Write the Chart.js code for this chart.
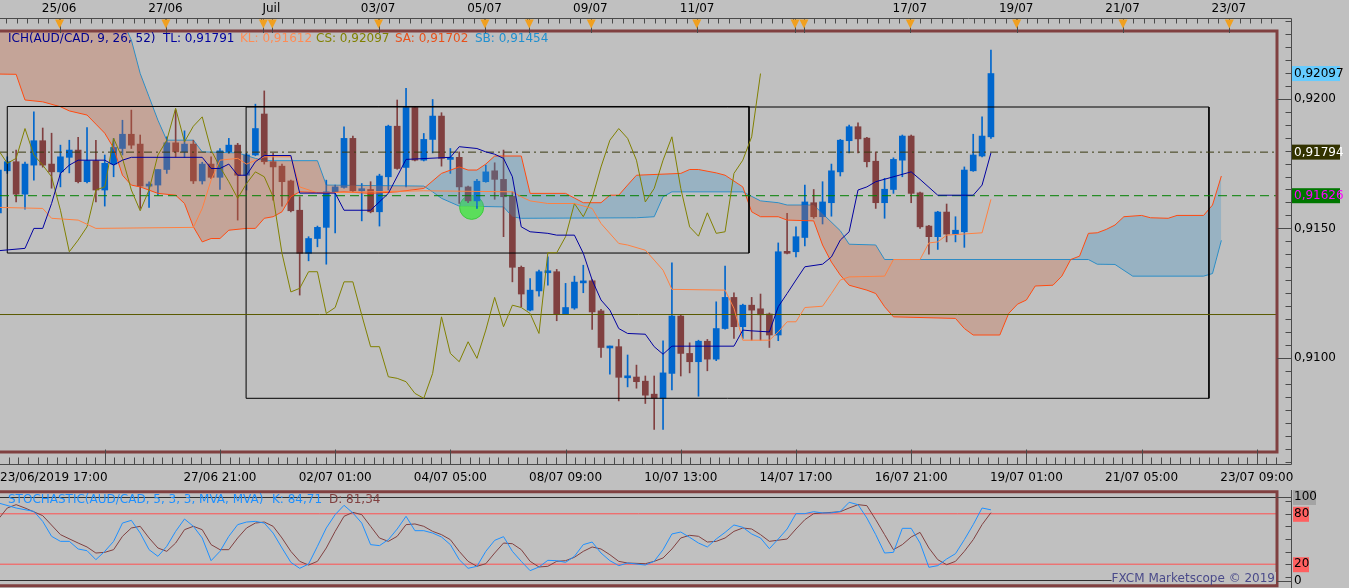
<!DOCTYPE html>
<html>
<head>
<meta charset="utf-8">
<script src="https://cdn.jsdelivr.net/npm/chart.js@4.4.1/dist/chart.umd.min.js"></script>
<style>
html, body { margin: 0; padding: 0; background: #c0c0c0; overflow: hidden; }
#wrap { position: relative; width: 1349px; height: 588px; }
canvas { position: absolute; left: 0; }
#main { top: 0; }
#stoch { top: 490px; }
</style>
</head>
<body>
<div id="wrap">
<canvas id="main" width="1349" height="490"></canvas>
<canvas id="stoch" width="1349" height="98"></canvas>
</div>
<script>
// AUD/CAD 4h candles, index 0 = 23/06/2019 17:00
var opens = [0.91560,0.91722,0.91757,0.91632,0.91744,0.91838,0.91748,0.91718,0.91774,0.91802,
  0.91680,0.91761,0.91648,0.91748,0.91808,0.91863,0.91825,0.91663,0.91667,0.91727,
  0.91830,0.91795,0.91825,0.91683,0.91748,0.91697,0.91795,0.91821,0.91705,0.91783,
  0.91941,0.91757,0.91740,0.91683,0.91570,0.91404,0.91461,0.91504,0.91641,0.91658,
  0.91847,0.91645,0.91650,0.91564,0.91699,0.91894,0.91735,0.91966,0.91763,0.91843,
  0.91933,0.91766,0.91774,0.91660,0.91606,0.91680,0.91722,0.91689,0.91624,0.91350,
  0.91185,0.91259,0.91329,0.91333,0.91170,0.91193,0.91290,0.91298,0.91182,0.91039,
  0.91044,0.90924,0.90927,0.90911,0.90861,0.90845,0.90941,0.91162,0.91018,0.90986,
  0.91065,0.90996,0.91114,0.91234,0.91121,0.91204,0.91190,0.91170,0.91089,0.91407,
  0.91410,0.91465,0.91599,0.91545,0.91599,0.91718,0.91838,0.91892,0.91848,0.91759,
  0.91599,0.91650,0.91763,0.91856,0.91637,0.91509,0.91468,0.91563,0.91478,0.91487,
  0.91722,0.91779,0.91853];
var highs = [0.91732,0.91776,0.91802,0.91756,0.91949,0.91887,0.91867,0.91821,0.91840,0.91851,
  0.91889,0.91840,0.91783,0.91847,0.91917,0.91956,0.91860,0.91680,0.91727,0.91853,
  0.91956,0.91876,0.91840,0.91755,0.91776,0.91808,0.91847,0.91828,0.91789,0.91979,
  0.92030,0.91789,0.91748,0.91686,0.91622,0.91468,0.91509,0.91686,0.91667,0.91892,
  0.91856,0.91673,0.91680,0.91709,0.91898,0.91995,0.92040,0.91970,0.91866,0.91997,
  0.91946,0.91808,0.91795,0.91663,0.91689,0.91744,0.91753,0.91802,0.91641,0.91355,
  0.91307,0.91339,0.91390,0.91342,0.91288,0.91316,0.91358,0.91303,0.91188,0.91046,
  0.91072,0.91012,0.90973,0.90931,0.90931,0.91067,0.91367,0.91166,0.91059,0.91069,
  0.91072,0.91217,0.91355,0.91252,0.91208,0.91234,0.91247,0.91174,0.91444,0.91558,
  0.91506,0.91667,0.91650,0.91680,0.91748,0.91843,0.91898,0.91907,0.91851,0.91795,
  0.91693,0.91772,0.91860,0.91860,0.91640,0.91512,0.91566,0.91594,0.91545,0.91737,
  0.91863,0.91930,0.92187];
var lows = [0.91551,0.91712,0.91602,0.91574,0.91686,0.91736,0.91655,0.91660,0.91714,0.91675,
  0.91675,0.91602,0.91586,0.91699,0.91783,0.91808,0.91577,0.91581,0.91628,0.91712,
  0.91776,0.91774,0.91673,0.91671,0.91692,0.91650,0.91789,0.91532,0.91648,0.91780,
  0.91748,0.91609,0.91586,0.91564,0.91243,0.91375,0.91429,0.91362,0.91483,0.91655,
  0.91642,0.91529,0.91560,0.91509,0.91648,0.91728,0.91660,0.91760,0.91760,0.91791,
  0.91740,0.91712,0.91596,0.91599,0.91577,0.91678,0.91612,0.91468,0.91294,0.91198,
  0.91182,0.91239,0.91281,0.91144,0.91168,0.91188,0.91252,0.91111,0.91003,0.90938,
  0.90835,0.90889,0.90884,0.90825,0.90725,0.90725,0.90877,0.90931,0.90943,0.90853,
  0.90951,0.90990,0.91112,0.91076,0.91076,0.91069,0.91069,0.91041,0.91067,0.91402,
  0.91390,0.91432,0.91539,0.91517,0.91547,0.91702,0.91791,0.91791,0.91737,0.91577,
  0.91539,0.91635,0.91699,0.91599,0.91500,0.91401,0.91419,0.91448,0.91448,0.91427,
  0.91720,0.91776,0.91847];
var closes = [0.91725,0.91757,0.91632,0.91748,0.91838,0.91744,0.91718,0.91776,0.91802,0.91680,
  0.91761,0.91648,0.91751,0.91812,0.91863,0.91821,0.91663,0.91671,0.91727,0.91830,
  0.91795,0.91825,0.91683,0.91748,0.91697,0.91799,0.91821,0.91705,0.91783,0.91885,
  0.91757,0.91737,0.91680,0.91568,0.91404,0.91461,0.91504,0.91641,0.91660,0.91847,
  0.91645,0.91653,0.91564,0.91702,0.91894,0.91731,0.91966,0.91763,0.91843,0.91933,
  0.91770,0.91774,0.91660,0.91606,0.91682,0.91718,0.91689,0.91622,0.91350,0.91247,
  0.91262,0.91333,0.91335,0.91170,0.91195,0.91293,0.91297,0.91178,0.91041,0.91044,
  0.90926,0.90928,0.90909,0.90857,0.90845,0.90943,0.91162,0.91018,0.90986,0.91065,
  0.90996,0.91114,0.91234,0.91121,0.91204,0.91185,0.91167,0.91089,0.91410,0.91404,
  0.91468,0.91602,0.91545,0.91602,0.91722,0.91840,0.91892,0.91845,0.91757,0.91599,
  0.91651,0.91766,0.91856,0.91635,0.91506,0.91468,0.91563,0.91478,0.91493,0.91725,
  0.91783,0.91856,0.92097];

// ichimoku lines, [candle index, price] at the vertices
var tenkan = [[0,0.91414],[3,0.91423],[4,0.91500],[5,0.91500],[6,0.91596],[7,0.91712],[8,0.91744],[9,0.91763],
  [12,0.91763],[13,0.91744],[14,0.91763],[15,0.91774],[23,0.91774],[24,0.91731],[25,0.91731],[26,0.91748],
  [27,0.91705],[28,0.91705],[29,0.91757],[30,0.91781],[33,0.91781],[34,0.91636],[38,0.91636],[39,0.91570],
  [42,0.91570],[44,0.91635],[46,0.91766],[51,0.91774],[52,0.91815],[54,0.91808],[55,0.91795],[56,0.91786],
  [57,0.91770],[58,0.91699],[59,0.91506],[60,0.91487],[62,0.91481],[63,0.91474],[65,0.91474],[66,0.91404],
  [67,0.91301],[68,0.91224],[69,0.91185],[70,0.91114],[71,0.91095],[73,0.91092],[74,0.91044],[75,0.91015],
  [76,0.91046],[83,0.91046],[84,0.91108],[85,0.91105],[87,0.91101],[88,0.91198],[89,0.91249],[90,0.91301],
  [91,0.91352],[93,0.91362],[94,0.91390],[95,0.91455],[96,0.91487],[97,0.91648],[98,0.91660],[99,0.91680],
  [103,0.91718],[104,0.91689],[106,0.91628],[110,0.91628],[111,0.91667],[112,0.91791]];
var kijun = [[0,0.91581],[5,0.91577],[6,0.91539],[9,0.91532],[11,0.91500],[22,0.91504],[23,0.91577],[24,0.91686],
  [25,0.91763],[27,0.91770],[28,0.91748],[30,0.91776],[33,0.91776],[34,0.91660],[36,0.91637],[48,0.91645],
  [58,0.91641],[59,0.91622],[60,0.91606],[62,0.91596],[65,0.91596],[67,0.91577],[68,0.91519],[70,0.91442],
  [71,0.91436],[73,0.91416],[74,0.91378],[75,0.91339],[76,0.91265],[82,0.91262],[83,0.91192],[84,0.91069],
  [87,0.91069],[88,0.91101],[89,0.91140],[90,0.91140],[91,0.91195],[93,0.91200],[94,0.91249],[95,0.91301],
  [96,0.91313],[100,0.91316],[101,0.91380],[104,0.91380],[105,0.91444],[106,0.91448],[107,0.91474],
  [111,0.91483],[112,0.91612]];
var chikou = [0.91802,0.91751,0.91770,0.91885,0.91783,0.91744,0.91699,0.91570,0.91410,0.91455,
  0.91506,0.91648,0.91660,0.91847,0.91770,0.91648,0.91568,0.91648,0.91783,0.91840,
  0.91963,0.91834,0.91894,0.91930,0.91802,0.91737,0.91680,0.91616,0.91673,0.91718,
  0.91699,0.91622,0.91404,0.91255,0.91269,0.91333,0.91333,0.91172,0.91195,0.91294,
  0.91294,0.91166,0.91044,0.91044,0.90928,0.90922,0.90909,0.90864,0.90845,0.90941,
  0.91159,0.91018,0.90986,0.91063,0.90999,0.91108,0.91234,0.91121,0.91204,0.91195,
  0.91172,0.91095,0.91406,0.91406,0.91468,0.91596,0.91545,0.91616,0.91737,0.91840,
  0.91885,0.91847,0.91763,0.91602,0.91654,0.91763,0.91853,0.91654,0.91506,0.91470,
  0.91560,0.91481,0.91487,0.91712,0.91763,0.91853,0.92097];
var senkouA = [[0,0.92095],[2,0.92094],[3,0.91995],[5,0.91988],[7,0.91969],[8,0.91953],[10,0.91937],[11,0.91902],
  [12,0.91867],[13,0.91810],[14,0.91705],[15,0.91667],[16,0.91660],[18,0.91635],[20,0.91628],[21,0.91596],
  [22,0.91506],[23,0.91448],[24,0.91461],[25,0.91461],[26,0.91493],[28,0.91500],[29,0.91500],[30,0.91539],
  [31,0.91545],[32,0.91564],[33,0.91622],[34,0.91641],[37,0.91637],[39,0.91641],[42,0.91635],[45,0.91641],
  [48,0.91654],[50,0.91712],[52,0.91737],[53,0.91725],[54,0.91725],[55,0.91748],[56,0.91779],[59,0.91779],
  [60,0.91635],[64,0.91635],[65,0.91617],[66,0.91599],[68,0.91599],[69,0.91628],[70,0.91628],[71,0.91667],
  [72,0.91705],[77,0.91712],[78,0.91727],[79,0.91727],[81,0.91714],[82,0.91705],[84,0.91660],[85,0.91564],
  [86,0.91545],[88,0.91545],[89,0.91532],[92,0.91529],[93,0.91436],[94,0.91370],[95,0.91320],[96,0.91281],
  [98,0.91262],[99,0.91249],[100,0.91198],[101,0.91159],[108,0.91153],[109,0.91114],[110,0.91089],
  [113,0.91089],[114,0.91172],[115,0.91208],[116,0.91224],[117,0.91278],[119,0.91281],[120,0.91316],
  [121,0.91380],[122,0.91393],[123,0.91481],[124,0.91483],[125,0.91496],[126,0.91513],[127,0.91545],
  [129,0.91550],[130,0.91541],[132,0.91539],[133,0.91550],[136,0.91550],[137,0.91590],[138,0.91702]];
var senkouB = [[0,0.92400],[13,0.92400],[14,0.92300],[15,0.92226],[16,0.92097],[17,0.92007],[18,0.91917],
  [19,0.91840],[22,0.91840],[23,0.91795],[27,0.91791],[29,0.91770],[30,0.91761],[36,0.91761],[37,0.91667],
  [48,0.91663],[49,0.91641],[50,0.91616],[52,0.91586],[57,0.91583],[58,0.91545],[59,0.91539],[72,0.91541],
  [74,0.91545],[75,0.91622],[76,0.91641],[84,0.91641],[86,0.91606],[88,0.91599],[89,0.91590],[92,0.91590],
  [95,0.91491],[96,0.91439],[99,0.91436],[100,0.91380],[123,0.91380],[124,0.91362],[126,0.91361],
  [128,0.91316],[136,0.91316],[137,0.91326],[138,0.91454]];

// drawings on the price panel
var levelPrices = [0.91794, 0.91626, 0.91168];
var boxes = [[1.0, 84.7, 0.91405, 0.91970], [27.95, 136.6, 0.90845, 0.91968]]; // [from, to, low, high]
var marker = [53.4, 0.91581];
var tagPrices = [0.92097, 0.91794, 0.91626];
var tagTexts = ['0,92097', '0,91794', '0,91626'];

// stochastic 5,3,3 (null = not read, line passes straight)
var stochK = [92.9,null,86.9,null,82.9,71.0,53.2,47.2,47.2,38.1,36.1,25.4,35.3,47.2,69.0,72.2,57.1,37.3,29.4,41.3,
  59.1,73.8,65.1,51.2,24.2,35.3,53.2,67.1,70.2,71.0,69.0,57.1,39.3,22.2,15.1,20.2,41.3,63.1,79.0,90.1,
  81.0,69.0,43.3,42.1,49.2,61.9,77.0,59.9,59.9,57.1,52.4,43.3,25.4,15.1,17.5,35.3,48.4,52.8,35.3,23.4,
  12.3,16.7,24.6,24.2,22.2,29.4,43.3,46.4,33.3,24.2,18.3,21.4,null,19.0,23.4,37.3,56.0,58.3,52.0,45.2,
  40.5,50.0,57.9,66.7,63.9,56.0,51.2,38.5,50.0,61.9,80.2,80.2,82.5,81.0,81.0,82.9,93.7,90.9,75.0,55.2,
  33.3,34.1,62.7,62.7,45.2,16.3,18.3,26.2,32.5,49.2,67.1,86.9,84.71];
var stochD = [73.8,86.9,90.9,86.9,null,77.8,null,55.2,null,45.2,40.5,33.3,34.1,37.3,53.2,63.1,65.1,51.2,39.3,35.3,
  45.2,61.1,65.1,61.1,43.3,37.3,37.3,51.2,63.1,69.0,70.2,65.1,51.2,35.3,23.4,19.0,23.4,39.3,59.1,77.0,
  81.7,79.0,65.1,51.2,47.2,53.2,67.1,67.9,65.1,59.1,55.2,49.2,35.3,23.4,17.5,20.6,33.3,45.2,44.4,37.3,
  23.4,16.7,17.5,23.4,24.2,28.2,35.3,40.5,38.1,31.3,23.4,21.4,null,20.6,23.4,27.4,38.1,51.2,54.4,53.2,
  46.4,47.2,51.2,59.1,63.1,61.9,55.2,47.2,null,50.0,61.9,73.0,80.2,81.0,81.7,82.5,86.9,90.9,89.7,73.0,
  55.2,37.3,43.3,52.4,57.9,39.3,25.4,19.4,23.4,35.3,49.2,67.1,81.34];
var stochLevels = [100, 80, 20, 0];
var stochTicks = [0, 20, 80, 100];

// axes
var priceTicks = [0.9100, 0.9150, 0.9200];
var timeTicks = [0, 25, 38, 51, 64, 77, 90, 103, 116, 129, 142];
var timeLabels = ['23/06/2019 17:00', '27/06 21:00', '02/07 01:00', '04/07 05:00', '08/07 09:00', '10/07 13:00',
  '14/07 17:00', '16/07 21:00', '19/07 01:00', '21/07 05:00', '23/07 09:00'];
var dayTicks = [6.85, 18.85, 30.8, 42.85, 54.85, 66.8, 78.85, 102.85, 114.85, 126.85, 138.85];
var dayLabels = ['25/06', '27/06', 'Juil', '03/07', '05/07', '09/07', '11/07', '17/07', '19/07', '21/07', '23/07'];
var eventMarks = [6.9, 18.9, 29.9, 30.9, 42.9, 54.9, 59.9, 66.9, 78.8, 89.9, 90.9, 102.9, 114.9, 126.9, 138.9];

var X_MIN = 0.18, X_MAX = 144.28;
var P_MIN = 0.90638, P_MAX = 0.92261;

var UP = '#0066cc', DOWN = '#804040', BORDER = '#804040', AXIS = '#4a4a4a';
var FONT = '12px "DejaVu Sans"';
Chart.defaults.font.family = '"DejaVu Sans"';
Chart.defaults.font.size = 12;
Chart.defaults.color = '#000';

function pts(list) { return list.map(function (p) { return {x: p[0], y: p[1]}; }); }
function idx(arr) { return arr.map(function (v, i) { return {x: i, y: v}; }); }
function flat(v) { return [{x: X_MIN, y: v}, {x: X_MAX, y: v}]; }
function rect(b) { return [{x: b[0], y: b[3]}, {x: b[1], y: b[3]}, {x: b[1], y: b[2]}, {x: b[0], y: b[2]}, {x: b[0], y: b[3]}]; }
function line(data, color, order, extra) {
  var ds = {type: 'line', data: data, borderColor: color, borderWidth: 1, pointRadius: 0, tension: 0, fill: false, order: order};
  for (var k in extra) ds[k] = extra[k];
  return ds;
}
// right axis: width fixed, no extra vertical padding from the tick labels
function fitRight(s) { s.width = 72; s.paddingTop = 0; s.paddingBottom = 0; }

var candleIdx = opens.map(function (v, i) { return i; });
var candleColors = candleIdx.map(function (i) { return closes[i] >= opens[i] ? UP : DOWN; });

var mainDecor = {
  id: 'mainDecor',
  afterDraw: function (chart) {
    var ctx = chart.ctx, a = chart.chartArea, x = chart.scales.x, y = chart.scales.y;
    var ax = a.right + 14.5, topLine = 18.5, base = 464.5;
    ctx.save();
    ctx.lineWidth = 3; ctx.strokeStyle = BORDER;
    ctx.beginPath();
    ctx.moveTo(0, a.top); ctx.lineTo(a.right, a.top); ctx.lineTo(a.right, a.bottom); ctx.lineTo(0, a.bottom);
    ctx.stroke();

    ctx.lineWidth = 1; ctx.strokeStyle = AXIS;
    ctx.beginPath();
    ctx.moveTo(0, topLine); ctx.lineTo(ax, topLine); ctx.lineTo(ax, base); ctx.lineTo(0, base);
    var i, k, px, py;
    for (i = -6; ; i++) {           // top day axis small ticks
      k = dayTicks[0] + i * 1.2;
      if (k > X_MAX) break;
      if (k < X_MIN) continue;
      px = Math.round(x.getPixelForValue(k)) + 0.5;
      ctx.moveTo(px, topLine); ctx.lineTo(px, topLine + 5);
    }
    for (i = -12; ; i++) {          // bottom time axis ticks
      k = 12 + i * 13 / 12;
      if (k > X_MAX) break;
      if (k < X_MIN) continue;
      px = Math.round(x.getPixelForValue(k)) + 0.5;
      ctx.moveTo(px, base); ctx.lineTo(px, i % 12 === 0 ? base - 15 : base - 7);
    }
    for (i = 0; i < 40; i++) {      // price axis ticks
      var v = 0.9060 + i * 0.0005;
      py = y.getPixelForValue(v);
      if (py < topLine || py > base) continue;
      py = Math.round(py) + 0.5;
      var major = Math.abs(v * 200 - Math.round(v * 200)) < 1e-6;
      ctx.moveTo(major ? a.right : ax - 6, py); ctx.lineTo(ax, py);
    }
    eventMarks.forEach(function (m) {
      px = Math.round(x.getPixelForValue(m)) + 0.5;
      ctx.moveTo(px, topLine); ctx.lineTo(px, a.top + 2);
    });
    ctx.stroke();

    ctx.fillStyle = '#f0a020';
    eventMarks.forEach(function (m) {
      px = x.getPixelForValue(m);
      ctx.beginPath();
      ctx.moveTo(px - 4.5, topLine + 1); ctx.lineTo(px + 4.5, topLine + 1); ctx.lineTo(px, topLine + 10);
      ctx.closePath(); ctx.fill();
    });

    ctx.font = FONT; ctx.textBaseline = 'middle'; ctx.fillStyle = '#000';
    ctx.textAlign = 'center';
    dayTicks.forEach(function (d, j) { ctx.fillText(dayLabels[j], x.getPixelForValue(d), 9); });
    timeTicks.forEach(function (t, j) {
      if (j === 0) { ctx.textAlign = 'left'; ctx.fillText(timeLabels[j], 0, 478); ctx.textAlign = 'center'; }
      else ctx.fillText(timeLabels[j], x.getPixelForValue(t), 478);
    });

    var tagBg = ['#66ccff', '#333300', '#007700'], tagFg = ['#000', '#fff', '#ff00ff'];
    ctx.textAlign = 'left';
    tagPrices.forEach(function (p, j) {
      py = y.getPixelForValue(p);
      ctx.fillStyle = tagBg[j]; ctx.fillRect(a.right + 15, py - 7.5, 48, 15);
      ctx.fillStyle = tagFg[j]; ctx.fillText(tagTexts[j], a.right + 17, py + 0.5);
    });

    var title = [['ICH(AUD/CAD, 9, 26, 52)', '#000090', 8], ['TL: 0,91791', '#0000a0', 163],
      ['KL: 0,91612', '#ff8c55', 240], ['CS: 0,92097', '#808000', 316],
      ['SA: 0,91702', '#e8501a', 395], ['SB: 0,91454', '#1e8fd0', 475]];
    title.forEach(function (t) { ctx.fillStyle = t[1]; ctx.fillText(t[0], t[2], 39); });
    ctx.restore();
  }
};

new Chart(document.getElementById('main'), {
  type: 'bar',
  data: {
    datasets: [
      line(pts(senkouA), '#ff4a10', 30, {fill: {target: '+1', above: 'rgba(69,150,200,0.32)', below: 'rgba(205,105,68,0.32)'}}),
      line(pts(senkouB), '#1e90d0', 40),
      {type: 'bar', data: candleIdx.map(function (i) { return {x: i, y: [lows[i], highs[i]]}; }),
        backgroundColor: candleColors, barThickness: 1, grouped: false, order: 35},
      {type: 'bar', data: candleIdx.map(function (i) { return {x: i, y: [Math.min(opens[i], closes[i]), Math.max(opens[i], closes[i])]}; }),
        backgroundColor: candleColors, barThickness: 6, minBarLength: 2, grouped: false, order: 34},
      line(rect(boxes[0]), '#000', 20),
      line(rect(boxes[1]), '#000', 20),
      line(flat(levelPrices[0]), '#3a3a10', 18, {borderDash: [8, 4, 2, 4]}),
      line(flat(levelPrices[1]), '#008000', 18, {borderDash: [9, 5]}),
      line(flat(levelPrices[2]), '#5a5a00', 18),
      line(idx(chikou), '#808000', 15),
      line(pts(kijun), '#ff8040', 14),
      line(pts(tenkan), '#0000a0', 13),
      {type: 'line', data: [{x: marker[0], y: marker[1]}], showLine: false, pointRadius: 12,
        pointBackgroundColor: 'rgba(80,225,80,0.9)', pointBorderColor: '#3cc83c', pointBorderWidth: 1, order: 38}
    ]
  },
  options: {
    responsive: false, animation: false, events: [],
    layout: {autoPadding: false, padding: {left: 0, top: 31, right: 0, bottom: 38}},
    scales: {
      x: {type: 'linear', min: X_MIN, max: X_MAX, display: false, offset: false},
      y: {position: 'right', min: P_MIN, max: P_MAX,
        afterFit: fitRight,
        afterBuildTicks: function (s) { s.ticks = priceTicks.map(function (v) { return {value: v}; }); },
        grid: {display: false, drawTicks: false}, border: {display: false},
        ticks: {padding: 17, color: '#000', callback: function (v) { return v.toFixed(4).replace('.', ','); }}}
    },
    plugins: {legend: {display: false}, tooltip: {enabled: false}}
  },
  plugins: [mainDecor]
});

var stochDecor = {
  id: 'stochDecor',
  beforeDraw: function (chart) {
    var ctx = chart.ctx, a = chart.chartArea, y = chart.scales.y;
    var back = [[100, '#a4a4a4', 23], [80, '#ff6060', 16], [20, '#ff6060', 16]];
    ctx.save();
    back.forEach(function (b) {
      var py = y.getPixelForValue(b[0]);
      ctx.fillStyle = b[1]; ctx.fillRect(a.right + 16, py - 7, b[2], 15);
    });
    ctx.restore();
  },
  afterDraw: function (chart) {
    var ctx = chart.ctx, a = chart.chartArea, y = chart.scales.y;
    var ax = a.right + 14.5;
    ctx.save();
    ctx.lineWidth = 3; ctx.strokeStyle = BORDER;
    ctx.beginPath();
    ctx.moveTo(0, 1.7); ctx.lineTo(a.right, 1.7); ctx.lineTo(a.right, 95.7); ctx.lineTo(0, 95.7);
    ctx.stroke();
    ctx.lineWidth = 1; ctx.strokeStyle = AXIS;
    ctx.beginPath();
    ctx.moveTo(ax, 0); ctx.lineTo(ax, 98);
    [0, 5, 20, 35, 50, 65, 80, 95, 100].forEach(function (v) {
      var py = Math.round(y.getPixelForValue(v)) + 0.5;
      ctx.moveTo(v === 0 || v === 100 ? a.right : ax - 6, py); ctx.lineTo(ax, py);
    });
    ctx.stroke();

    ctx.font = FONT; ctx.textBaseline = 'middle'; ctx.textAlign = 'left';
    ctx.fillStyle = '#1e90ff';
    ctx.fillText('STOCHASTIC(AUD/CAD, 5, 3, 3, MVA, MVA)', 8, 10);
    ctx.fillText('K: 84,71', 272, 10);
    ctx.fillStyle = '#804040';
    ctx.fillText('D: 81,34', 329, 10);

    var txt = 'FXCM Marketscope \u00a9 2019';
    var w = ctx.measureText(txt).width;
    ctx.fillStyle = '#c0c0c0'; ctx.fillRect(a.right - 2 - w, 82, w + 1, 12);
    ctx.fillStyle = '#4a4a8a'; ctx.textAlign = 'right';
    ctx.fillText(txt, a.right - 2, 88.5);
    ctx.restore();
  }
};

new Chart(document.getElementById('stoch'), {
  type: 'line',
  data: {
    datasets: [
      line(flat(stochLevels[0]), '#000', 20, {borderWidth: 1.5}),
      line(flat(stochLevels[1]), '#ff5050', 20),
      line(flat(stochLevels[2]), '#ff5050', 20),
      line(flat(stochLevels[3]), '#000', 20, {borderWidth: 1.5}),
      line(idx(stochD), '#804040', 10, {spanGaps: true}),
      line(idx(stochK), '#1e90ff', 5, {spanGaps: true})
    ]
  },
  options: {
    responsive: false, animation: false, events: [],
    layout: {autoPadding: false, padding: {left: 0, top: 7, right: 0, bottom: 7}},
    scales: {
      x: {type: 'linear', min: X_MIN, max: X_MAX, display: false},
      y: {position: 'right', min: 0, max: 100,
        afterFit: fitRight,
        afterBuildTicks: function (s) { s.ticks = stochTicks.map(function (v) { return {value: v}; }); },
        grid: {display: false, drawTicks: false}, border: {display: false},
        ticks: {padding: 17, color: '#000'}}
    },
    plugins: {legend: {display: false}, tooltip: {enabled: false}}
  },
  plugins: [stochDecor]
});
</script>
</body>
</html>
